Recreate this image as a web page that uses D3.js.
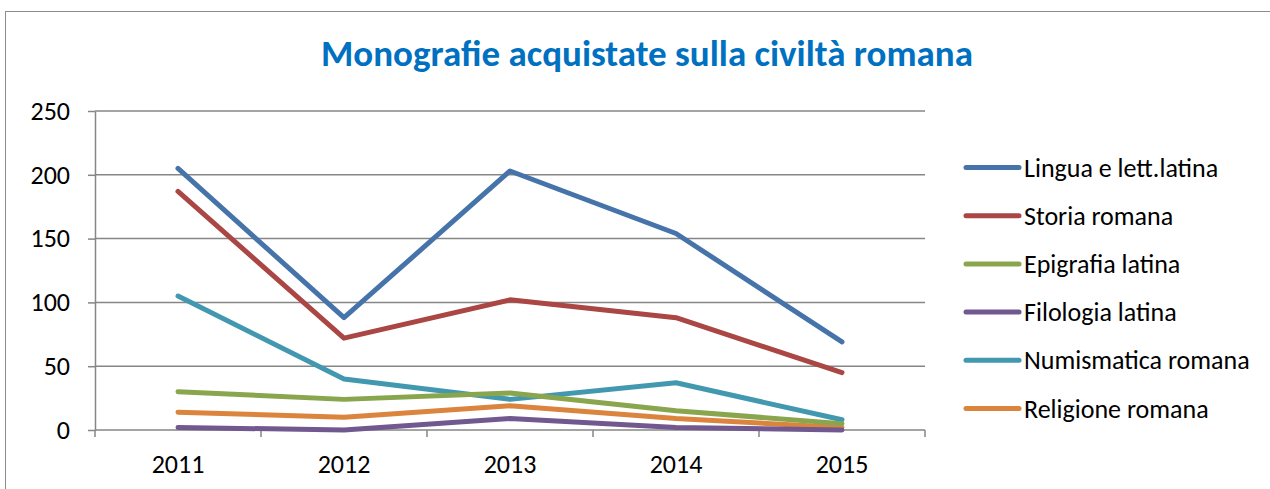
<!DOCTYPE html>
<html lang="it">
<head>
<meta charset="UTF-8">
<title>Monografie acquistate sulla civiltà romana</title>
<script src="https://d3js.org/d3.v7.min.js"></script>
<style>
    body { margin: 0; background: #fff; overflow: hidden; }
    svg { display: block; font-family: Carlito, Lato, "Open Sans", sans-serif; }
</style>
</head>
<body>
<div id="chart"></div>
<script>
// chart data
const years = ["2011", "2012", "2013", "2014", "2015"];
const seriesNames = ["Lingua e lett.latina", "Storia romana", "Epigrafia latina",
                     "Filologia latina", "Numismatica romana", "Religione romana"];
const lingua = [205, 88, 203, 154, 69];
const storia = [187, 72, 102, 88, 45];
const epigrafia = [30, 24, 29, 15, 5];
const filologia = [2, 0, 9, 2, 0];
const numismatica = [105, 40, 24, 37, 8];
const religione = [14, 10, 19, 9, 2];
const yTicks = [0, 50, 100, 150, 200, 250];
const colors = ["#4674AA", "#AA4643", "#89A54E", "#71588F", "#4198AF", "#DB843D"];

const series = [lingua, storia, epigrafia, filologia, numismatica, religione]
    .map((vals, i) => ({ name: seriesNames[i], values: vals, color: colors[i] }));

const W = 1270, H = 489;
const plot = { left: 95, right: 925, top: 111, bottom: 430 };

const svg = d3.select("#chart").append("svg")
    .attr("width", W).attr("height", H);

// outer chart frame
svg.append("rect")
    .attr("x", 5.5).attr("y", 11.5)
    .attr("width", W + 10).attr("height", H + 10)
    .attr("fill", "none").attr("stroke", "#8c8c8c").attr("stroke-width", 1);

// title
svg.append("text")
    .attr("x", 647).attr("y", 66)
    .attr("text-anchor", "middle")
    .attr("font-size", 37).attr("font-weight", "bold")
    .attr("fill", "#0070C0")
    .text("Monografie acquistate sulla civiltà romana");

const x = d3.scaleBand().domain(years).range([plot.left, plot.right]);
const y = d3.scaleLinear().domain([0, 250]).range([plot.bottom, plot.top]);

// y axis
const yAxis = svg.append("g")
    .attr("transform", `translate(${plot.left},0)`)
    .call(d3.axisLeft(y).tickValues(yTicks).tickSize(7).tickPadding(18).tickSizeOuter(0));
yAxis.select(".domain").attr("stroke", "#868686").attr("stroke-width", 1.5);
yAxis.selectAll(".tick line").attr("stroke", "#868686").attr("stroke-width", 1.5);
yAxis.selectAll(".tick text").attr("font-size", 26).attr("fill", "#000")
    .style("font-family", "Carlito, Lato, 'Open Sans', sans-serif");

// horizontal grid
svg.append("g").selectAll("line")
    .data(yTicks.filter(d => d > 0))
    .join("line")
    .attr("x1", plot.left).attr("x2", plot.right)
    .attr("y1", d => y(d)).attr("y2", d => y(d))
    .attr("stroke", "#868686").attr("stroke-width", 1.5);

// x axis: ticks at band boundaries, labels centered
const xAxis = svg.append("g")
    .attr("transform", `translate(0,${plot.bottom})`);
xAxis.append("line")
    .attr("x1", plot.left).attr("x2", plot.right)
    .attr("stroke", "#868686").attr("stroke-width", 1.5);
xAxis.selectAll("line.tk")
    .data(years.map(d => x(d)).concat([plot.right]))
    .join("line").attr("class", "tk")
    .attr("x1", d => d).attr("x2", d => d)
    .attr("y1", 0).attr("y2", 7)
    .attr("stroke", "#868686").attr("stroke-width", 1.5);
xAxis.selectAll("text")
    .data(years)
    .join("text")
    .attr("x", d => x(d) + x.bandwidth() / 2)
    .attr("y", 43)
    .attr("text-anchor", "middle")
    .attr("font-size", 26).attr("fill", "#000")
    .text(d => d);

// lines
const line = d3.line()
    .x((d, i) => x(years[i]) + x.bandwidth() / 2)
    .y(d => y(d));

svg.append("g").selectAll("path")
    .data(series.slice().reverse())
    .join("path")
    .attr("d", d => line(d.values))
    .attr("fill", "none")
    .attr("stroke", d => d.color)
    .attr("stroke-width", 5)
    .attr("stroke-linejoin", "round")
    .attr("stroke-linecap", "round");

// legend
const legend = svg.append("g").attr("transform", "translate(966,167.5)");
const rows = legend.selectAll("g")
    .data(series)
    .join("g")
    .attr("transform", (d, i) => `translate(0,${i * 48.2})`);
rows.append("line")
    .attr("x1", 0).attr("x2", 53)
    .attr("stroke", d => d.color).attr("stroke-width", 5)
    .attr("stroke-linecap", "round");
rows.append("text")
    .attr("x", 58).attr("y", 9)
    .attr("font-size", 26).attr("fill", "#000")
    .text(d => d.name);
</script>
</body>
</html>
